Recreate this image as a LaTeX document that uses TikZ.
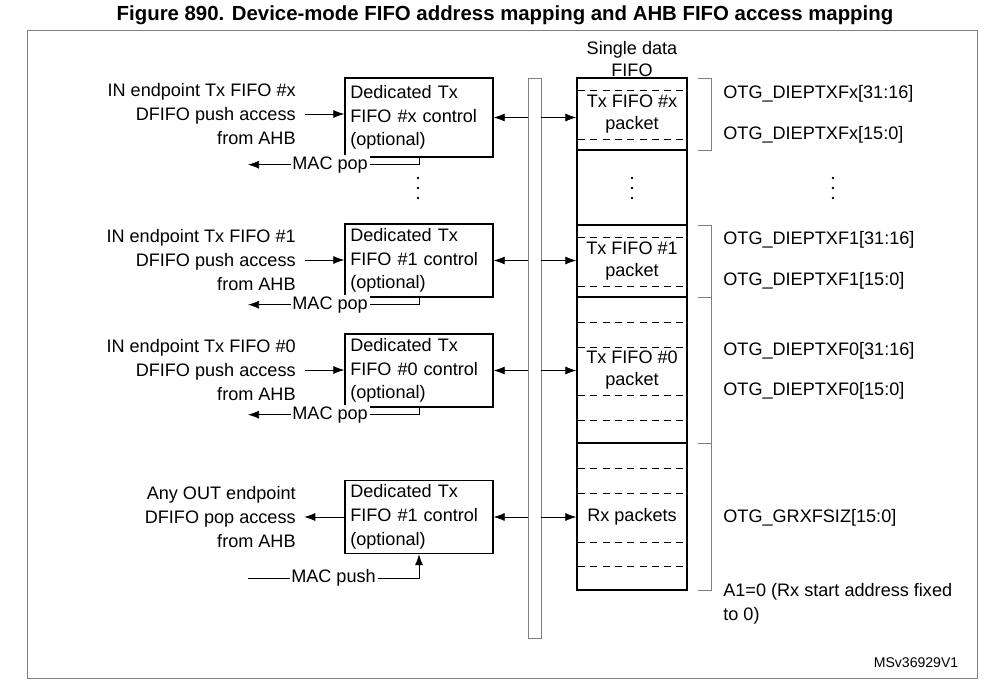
\documentclass[tikz,border=0pt]{standalone}
\usepackage{fontspec}
\setmainfont{Liberation Sans}
\usetikzlibrary{arrows.meta,positioning}

\tikzset{
  ctrl/.style={draw,thick,minimum width=2.96cm,minimum height=1.46cm,
    align=left,text width=2.75cm,inner sep=0pt,font=\fontsize{10.3}{13.5}\selectfont},
  sect/.style={draw,thick,minimum width=2.2cm,inner sep=0pt,align=center,
    font=\fontsize{10.3}{12.5}\selectfont},
  lbl/.style={align=right,anchor=east,inner sep=0pt,font=\fontsize{10.3}{13.5}\selectfont},
  reg/.style={anchor=west,inner sep=0pt,align=left,font=\fontsize{10.3}{13.5}\selectfont},
  mac/.style={fill=white,inner sep=1pt,font=\fontsize{10.3}{12}\selectfont},
  sepline/.style={dash pattern=on 4pt off 3pt,thin},
  vdot/.style={fill,circle,inner sep=0.7pt},
  conn/.style={-{Latex[length=2.2mm,width=1.6mm]}},
  bconn/.style={{Latex[length=2.2mm,width=1.6mm]}-}
}

\begin{document}
\begin{tikzpicture}[x=0.02cm,y=-0.02cm]
  \useasboundingbox (0,0) rectangle (999,689);
  \node[font=\bfseries\fontsize{11.6}{13}\selectfont] (title) at (505,15)
    {Figure 890. Device-mode FIFO address mapping and AHB FIFO access mapping};
  \draw[gray] (27,30) rectangle (977,678);

  % bus
  \node[draw,gray,minimum width=0.26cm,minimum height=11.2cm,inner sep=0pt] (bus) at (534.5,358) {};

  % single data FIFO
  \node[align=center,font=\fontsize{10.3}{12.5}\selectfont] (fifo) at (632,59) {Single data\\FIFO};
  \node[sect,minimum height=1.44cm] (fx) at (632,114) {Tx FIFO \#x\\packet};
  \node[sect,minimum height=1.5cm] (fd) at (632,187.5) {};
  \node[sect,minimum height=1.44cm] (f1) at (632,261) {Tx FIFO \#1\\packet};
  \node[sect,minimum height=2.92cm] (f0) at (632,370) {Tx FIFO \#0\\packet};
  \node[sect,minimum height=2.94cm] (frx) at (632,516.5) {Rx packets};
  \foreach \y in {90,139,237,286,322,347,395,420,468,493,542,566}
    \draw[sepline] (578,\y) -- (686,\y);

  % vertical dots
  \foreach \x in {418,632,833}
    \foreach \y in {178,188,198}
      \fill (\x,\y) circle (0.8pt);

  % brackets
  \foreach \a/\b in {78/150,225/297,297/443,443/590}
    \draw[gray] (698,\a) -- (711,\a) -- (711,\b) -- (698,\b);
  \node[reg] (r1) at (723,94) {OTG\_DIEPTXFx[31:16]};
  \node[reg] (r2) at (723,135) {OTG\_DIEPTXFx[15:0]};
  \node[reg] (r3) at (723,240) {OTG\_DIEPTXF1[31:16]};
  \node[reg] (r4) at (723,281) {OTG\_DIEPTXF1[15:0]};
  \node[reg] (r5) at (723,351) {OTG\_DIEPTXF0[31:16]};
  \node[reg] (r6) at (723,391) {OTG\_DIEPTXF0[15:0]};
  \node[reg] (r7) at (723,518) {OTG\_GRXFSIZ[15:0]};
  \node[reg,anchor=north west] (r8) at (723,583) {A1=0 (Rx start address fixed\\to 0)};

  % control blocks
  \node[ctrl,minimum height=1.58cm] (cx) at (419,117.5) {Dedicated Tx\\FIFO \#x control\\(optional)};
  \node[ctrl] (c1) at (419,260.5) {Dedicated Tx\\FIFO \#1 control\\(optional)};
  \node[ctrl] (c0) at (419,370.5) {Dedicated Tx\\FIFO \#0 control\\(optional)};
  \node[ctrl] (crx) at (419,517) {Dedicated Tx\\FIFO \#1 control\\(optional)};

  \node[lbl] (ix) at (296,114) {IN endpoint Tx FIFO \#x\\DFIFO push access\\from AHB};
  \node[lbl] (i1) at (296,260) {IN endpoint Tx FIFO \#1\\DFIFO push access\\from AHB};
  \node[lbl] (i0) at (296,370) {IN endpoint Tx FIFO \#0\\DFIFO push access\\from AHB};
  \node[lbl] (irx) at (296,517) {Any OUT endpoint\\DFIFO pop access\\from AHB};

  \foreach \i/\c/\f in {ix/cx/fx,i1/c1/f1,i0/c0/f0} {
    \draw[conn] (\i.east) ++(9,0) coordinate (\i s) -- (\i s -| \c.west);
    \draw[bconn] (\c.east) -- (\c.east -| bus.west);
    \draw[conn] (\c.east -| bus.east) -- (\c.east -| \f.west);
    \draw (\c.south) -- ++(0,7) coordinate (\c k);
    \coordinate (\c t) at (248,0);
    \draw[conn] (\c k) -- (\c k -| \c t) node[mac,pos=0.52] {MAC pop};
  }
  \draw[conn] (crx.west) -- ++(-40,0) coordinate (irxs);
  \draw[bconn] (crx.east) -- (crx.east -| bus.west);
  \draw[conn] (crx.east -| bus.east) -- (crx.east -| frx.west);
  \coordinate (push) at (248,578);
  \draw[conn] (push) -| (crx.south) node[mac,pos=0.25] {MAC push};

  \node[font=\fontsize{8}{10}\selectfont] (id) at (916,663) {MSv36929V1};
\end{tikzpicture}
\end{document}
